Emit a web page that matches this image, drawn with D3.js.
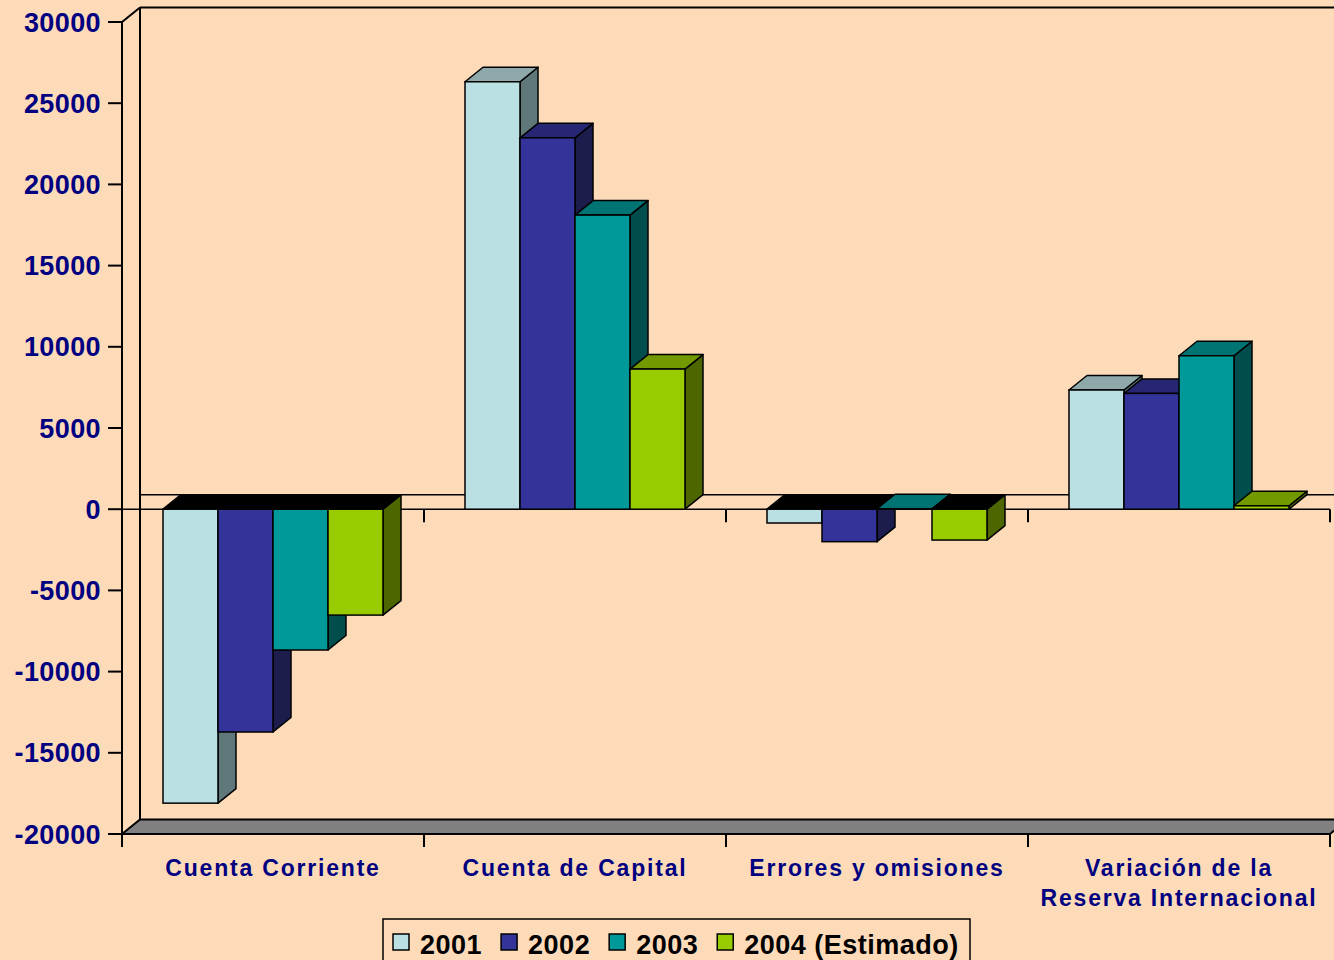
<!DOCTYPE html>
<html>
<head>
<meta charset="utf-8">
<script src="https://cdn.jsdelivr.net/npm/d3@7"></script>
<style>
  html, body { margin: 0; padding: 0; background: #FDDBB9; }
  svg { display: block; font-family: "Liberation Sans", Arial, sans-serif; }
</style>
</head>
<body>
<svg id="chart" width="1334" height="960"></svg>
<script>
// Balanza de pagos, millones
const categories = ['Cuenta Corriente', 'Cuenta de Capital', 'Errores y omisiones', 'Variación de la|Reserva Internacional'];
const years = ['2001', '2002', '2003', '2004 (Estimado)'];
const values2001 = [-18100, 26320, -850, 7340];
const values2002 = [-13720, 22870, -2000, 7130];
const values2003 = [-8670, 18110, 30, 9450];
const values2004 = [-6520, 8630, -1900, 210];
const yTicks = [-20000, -15000, -10000, -5000, 0, 5000, 10000, 15000, 20000, 25000, 30000];

const seriesValues = [values2001, values2002, values2003, values2004];
const faceColors = {
  '2001': { front: '#BBE0E3', top: '#8FA9AA', side: '#607879' },
  '2002': { front: '#333399', top: '#262673', side: '#1C1C4D' },
  '2003': { front: '#009999', top: '#007373', side: '#004D4D' },
  '2004 (Estimado)': { front: '#99CC00', top: '#739900', side: '#4D6600' }
};

const svg = d3.select('#chart');
const navy = '#000080';
const depthX = 18, depthY = -14.5;

const x0 = d3.scaleBand().domain(categories).range([122, 1330]);
const x1 = d3.scaleBand().domain(years).range([41, x0.bandwidth() - 41]);
const y = d3.scaleLinear().domain([-20000, 30000]).range([834, 22]);

const walls = svg.append('g');
// back wall edges
walls.append('line').attr('x1', 122 + depthX).attr('y1', y(30000) + depthY).attr('x2', 122 + depthX).attr('y2', y(-20000) + depthY)
  .attr('stroke', '#000').attr('stroke-width', 2);
walls.append('line').attr('x1', 122 + depthX).attr('y1', y(30000) + depthY).attr('x2', 1350).attr('y2', y(30000) + depthY)
  .attr('stroke', '#000').attr('stroke-width', 2);
walls.append('line').attr('x1', 122).attr('y1', y(30000)).attr('x2', 122 + depthX).attr('y2', y(30000) + depthY)
  .attr('stroke', '#000').attr('stroke-width', 2);
// zero line on back wall
walls.append('line').attr('x1', 122 + depthX).attr('y1', y(0) + depthY).attr('x2', 1350).attr('y2', y(0) + depthY)
  .attr('stroke', '#000').attr('stroke-width', 1.5);
// floor
walls.append('polygon')
  .attr('points', [[122, y(-20000)], [122 + depthX, y(-20000) + depthY], [1330 + depthX, y(-20000) + depthY], [1330, y(-20000)]].join(' '))
  .attr('fill', '#808080').attr('stroke', '#000').attr('stroke-width', 2);

// front zero axis + category ticks
const catEdges = categories.map(c => x0(c)).concat([x0.range()[1]]);
walls.append('line').attr('x1', 122).attr('y1', y(0)).attr('x2', 1330).attr('y2', y(0))
  .attr('stroke', '#000').attr('stroke-width', 1.5);
walls.selectAll('.ztick').data(catEdges.slice(1)).join('line')
  .attr('x1', d => d).attr('x2', d => d).attr('y1', y(0)).attr('y2', y(0) + 13)
  .attr('stroke', '#000').attr('stroke-width', 2);
walls.selectAll('.btick').data(catEdges).join('line')
  .attr('x1', d => d).attr('x2', d => d).attr('y1', y(-20000)).attr('y2', y(-20000) + 13)
  .attr('stroke', '#000').attr('stroke-width', 2);

// bars
const bars = svg.append('g');
categories.forEach((cat, ci) => {
  years.forEach((yr, si) => {
    const v = seriesValues[si][ci];
    const c = faceColors[yr];
    const xl = x0(cat) + x1(yr), xr = xl + x1.bandwidth();
    const y0 = y(0), yv = y(v);
    const yTop = Math.min(y0, yv), yBot = Math.max(y0, yv);
    const g = bars.append('g');
    g.append('polygon')
      .attr('points', [[xr, yTop], [xr + depthX, yTop + depthY], [xr + depthX, yBot + depthY], [xr, yBot]].join(' '))
      .attr('fill', c.side).attr('stroke', '#000').attr('stroke-width', 1.5).attr('stroke-linejoin', 'round');
    g.append('polygon')
      .attr('points', [[xl, yTop], [xl + depthX, yTop + depthY], [xr + depthX, yTop + depthY], [xr, yTop]].join(' '))
      .attr('fill', v < 0 ? '#000' : c.top).attr('stroke', '#000').attr('stroke-width', 1.5).attr('stroke-linejoin', 'round');
    g.append('rect')
      .attr('x', xl).attr('y', yTop).attr('width', x1.bandwidth()).attr('height', Math.max(0, yBot - yTop))
      .attr('fill', c.front).attr('stroke', '#000').attr('stroke-width', 1.5);
  });
});

// front value axis
const axisG = svg.append('g');
axisG.append('line').attr('x1', 122).attr('x2', 122).attr('y1', y(30000)).attr('y2', y(-20000))
  .attr('stroke', '#000').attr('stroke-width', 2);
axisG.selectAll('.ytick').data(yTicks).join('line')
  .attr('x1', 108).attr('x2', 122).attr('y1', d => y(d)).attr('y2', d => y(d))
  .attr('stroke', '#000').attr('stroke-width', 2);
axisG.selectAll('.ylab').data(yTicks).join('text')
  .attr('x', 101).attr('y', d => y(d) + 9.5)
  .attr('text-anchor', 'end').attr('fill', navy)
  .attr('font-size', '27px').attr('font-weight', 'bold')
  .attr('letter-spacing', '0.4px')
  .text(d => d);

// category labels
const catLabels = svg.append('g');
categories.forEach(cat => {
  const lines = cat.split('|');
  lines.forEach((ln, i) => {
    catLabels.append('text')
      .attr('x', x0(cat) + x0.bandwidth() / 2)
      .attr('y', 876 + i * 30)
      .attr('text-anchor', 'middle').attr('fill', navy)
      .attr('font-size', '23px').attr('font-weight', 'bold')
      .attr('letter-spacing', '1.8px')
      .text(ln);
  });
});

// legend
const legend = svg.append('g');
legend.append('rect').attr('x', 383).attr('y', 919).attr('width', 587).attr('height', 60)
  .attr('fill', 'none').attr('stroke', '#000').attr('stroke-width', 1.5);
let lx = 393;
years.forEach(yr => {
  legend.append('rect').attr('x', lx).attr('y', 934).attr('width', 16).attr('height', 16)
    .attr('fill', faceColors[yr].front).attr('stroke', '#000').attr('stroke-width', 1.5);
  const t = legend.append('text').attr('x', lx + 27).attr('y', 954)
    .attr('fill', '#000').attr('font-size', '27px').attr('font-weight', 'bold')
    .attr('letter-spacing', '0.5px').text(yr);
  lx += 27 + t.node().getComputedTextLength() + 19;
});
</script>
</body>
</html>
